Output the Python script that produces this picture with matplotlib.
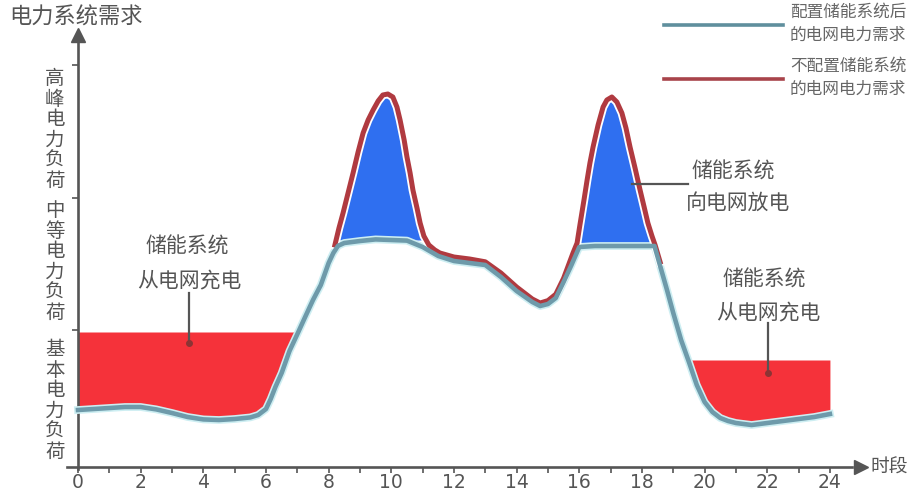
import matplotlib
matplotlib.use('Agg')
import matplotlib.pyplot as plt
import matplotlib.patheffects as pe
from matplotlib.lines import Line2D
import numpy as np

plt.rcParams['font.family'] = ['Noto Sans CJK SC', 'DejaVu Sans']

# demand with storage (whole day)
hours = [0, 0.5, 1, 1.5, 2, 2.5, 3, 3.5, 4, 4.5, 5, 5.5, 5.75, 6, 6.15, 6.3,
         6.5, 6.75, 7, 7.25, 7.5, 7.75, 8, 8.15, 8.3, 8.5, 9, 9.5, 10, 10.5,
         11, 11.5, 12, 12.5, 13, 13.5, 14, 14.5, 14.75, 15, 15.25, 15.5,
         15.75, 16, 16.5, 17, 17.5, 18, 18.4, 18.5, 18.6, 18.8, 19, 19.25,
         19.5, 19.75, 20, 20.25, 20.5, 20.75, 21, 21.5, 22, 22.5, 23, 23.5, 24]
demand_with = [14.25, 14.5, 14.75, 15, 15, 14.4, 13.5, 12.5, 11.9, 11.75, 12,
               12.4, 13, 14.5, 17, 20, 23.5, 29, 33.2, 37.5, 41.75, 45.5, 51,
               53.5, 55.3, 56, 56.5, 56.9, 56.75, 56.6, 55, 52.75, 51.5, 51,
               50.5, 47.5, 44, 41.25, 40.25, 40.75, 42.25, 46.25, 50.5, 55,
               55.25, 55.25, 55.25, 55.25, 55.25, 52.5, 49.75, 44.25, 38.5,
               31.75, 26.25, 20.5, 16.25, 13.75, 12.25, 11.5, 11, 10.5, 11,
               11.5, 12, 12.5, 13.25]

# demand without storage (visible part around the peaks)
hours_peak = [8.2, 8.33, 8.46, 8.62, 8.78, 8.94, 9.1, 9.26, 9.42, 9.58, 9.73,
              9.89, 10.05, 10.18, 10.28, 10.41, 10.5, 10.6, 10.69, 10.82,
              10.92, 11.04, 11.2, 11.39, 11.55, 12, 12.5, 13, 13.5, 14, 14.5,
              14.75, 15, 15.25, 15.5, 15.8, 15.93, 16.02, 16.15, 16.25, 16.34,
              16.44, 16.6, 16.76, 16.88, 17.04, 17.2, 17.36, 17.49, 17.62,
              17.78, 17.94, 18.07, 18.19, 18.32, 18.42, 18.58]
demand_without = [55.5, 59.75, 63.5, 68.5, 73.5, 78.75, 83.5, 86.75, 89.25,
                  91.5, 93, 93.25, 92.5, 90, 86.75, 81.75, 77.5, 73.5, 69.25,
                  64.75, 61, 57.75, 55.5, 54.25, 53.5, 52.5, 52, 51.3, 48.5,
                  45, 42, 41, 41.6, 43.2, 47.2, 53.5, 56, 60.5, 66.75, 71.75,
                  76, 80, 85.5, 90, 91.75, 92.5, 91.25, 88.5, 84.75, 80,
                  74.75, 69.25, 65, 61, 57.75, 55.5, 51.25]

# storage levels
charge_level_night = 33.75
charge_level_evening = 26.75
cap_level_morning = 56.75
cap_level_evening = 56.0

level_ticks = [34.25, 67.25, 100.5]
level_names = ['基本电力负荷', '中等电力负荷', '高峰电力负荷']
level_label_y = [16.5, 51.25, 84.25]
x_ticks = list(range(0, 25, 2))

h = np.array(hours)
d = np.array(demand_with)
hp = np.array(hours_peak)
dp = np.array(demand_without)

fig = plt.figure(figsize=(9.15, 4.91), dpi=100)
ax = fig.add_axes([0, 0, 1, 1])
ax.set_xlim(-78 / 31.33, (915 - 78) / 31.33)
ax.set_ylim(-(491 - 467) / 4, 467 / 4)

red_fill = '#f5323a'
blue_fill = '#2f6ff0'
axis_c = '#555555'
text_c = '#555555'

# charging areas
ax.fill_between(h, d, charge_level_night, where=(d < charge_level_night) & (h < 12),
                interpolate=True, color=red_fill, lw=0, zorder=1)
ax.fill_between(h, d, charge_level_evening, where=(d < charge_level_evening) & (h > 12),
                interpolate=True, color=red_fill, lw=0, zorder=1)
# discharging areas
ax.fill_between(hp, dp, cap_level_morning, where=(dp > cap_level_morning) & (hp < 13),
                interpolate=True, color=blue_fill, lw=0, zorder=1)
ax.fill_between(hp, dp, cap_level_evening, where=(dp > cap_level_evening) & (hp > 13),
                interpolate=True, color=blue_fill, lw=0, zorder=1)

# lines
ax.plot(h, d, color='#cdeef2', lw=5.6, solid_joinstyle='round', zorder=3)
ax.plot(hp, dp, color='#b03a40', lw=3.6, solid_joinstyle='round', zorder=4,
        path_effects=[pe.withStroke(linewidth=6.2, foreground='white')])
ax.plot(h, d, color='#6e9aaa', lw=3.3, solid_joinstyle='round', zorder=5)

# axes
for s in ['top', 'right']:
    ax.spines[s].set_visible(False)
ax.spines['left'].set_position(('data', 0))
ax.spines['bottom'].set_position(('data', 0))
ax.spines['left'].set_bounds(-0.5, 107)
ax.spines['bottom'].set_bounds(-0.35, 24.7)
for s in ['left', 'bottom']:
    ax.spines[s].set_color(axis_c)
    ax.spines[s].set_linewidth(1.9)
ax.plot([25.0], [0], marker='>', ms=10, color=axis_c, clip_on=False, zorder=6)
ax.plot([0], [108], marker='^', ms=10, color=axis_c, clip_on=False, zorder=6)

ax.set_xticks(x_ticks)
ax.set_xticks(range(0, 25), minor=True)
ax.set_yticks(level_ticks)
ax.set_yticklabels([])
ax.tick_params(axis='both', which='both', direction='out', color=axis_c, width=1.2, length=4)
ax.tick_params(axis='x', labelsize=13.5, labelcolor=text_c, pad=0.5)
for lab in ax.get_xticklabels():
    lab.set_family(['Liberation Sans Narrow', 'DejaVu Sans'])

ax.text(-2.2, 112.5, '电力系统需求', fontsize=16, color=text_c, ha='left', va='center')
ax.text(25.3, 0, '时段', fontsize=13.5, color=text_c, ha='left', va='center')

for name, yc in zip(level_names, level_label_y):
    ax.text(-0.74, yc, '\n'.join(name), fontsize=14, color=text_c, ha='center',
            va='center', linespacing=0.97)

# annotations
ax.text(3.5, 55, '储能系统', fontsize=15, color=text_c, ha='center', va='center')
ax.text(3.55, 46.75, '从电网充电', fontsize=15, color=text_c, ha='center', va='center')
ax.plot([3.55, 3.55], [43.5, 31], color='#555555', lw=1.6, zorder=6)
ax.plot([3.55], [31], 'o', ms=4, color='#8c3434', zorder=6)

ax.text(21.9, 46.75, '储能系统', fontsize=15, color=text_c, ha='center', va='center')
ax.text(22.02, 38.75, '从电网充电', fontsize=15, color=text_c, ha='center', va='center')
ax.plot([22.02, 22.02], [36, 23.5], color='#555555', lw=1.6, zorder=6)
ax.plot([22.02], [23.5], 'o', ms=4, color='#8c3434', zorder=6)

ax.text(20.9, 73.75, '储能系统', fontsize=15, color=text_c, ha='center', va='center')
ax.text(21.07, 66, '向电网放电', fontsize=15, color=text_c, ha='center', va='center')
ax.plot([17.68, 19.47], [70.75, 70.75], color='#555555', lw=1.6, zorder=6)

# legend
handles = [Line2D([], [], color='#5f8f9d', lw=2.6),
           Line2D([], [], color='#a8434a', lw=2.6)]
leg = ax.legend(handles, ['配置储能系统后\n的电网电力需求', '不配置储能系统\n的电网电力需求'],
                loc='upper left', bbox_to_anchor=(660 / 915, 1.0), frameon=False,
                fontsize=12, handlelength=7.1, handletextpad=0.45, labelspacing=0.85,
                borderaxespad=0.0, borderpad=0.25)
for t in leg.get_texts():
    t.set_color('#666666')
    t.set_linespacing(1.45)

fig.savefig('out.png', dpi=100)
